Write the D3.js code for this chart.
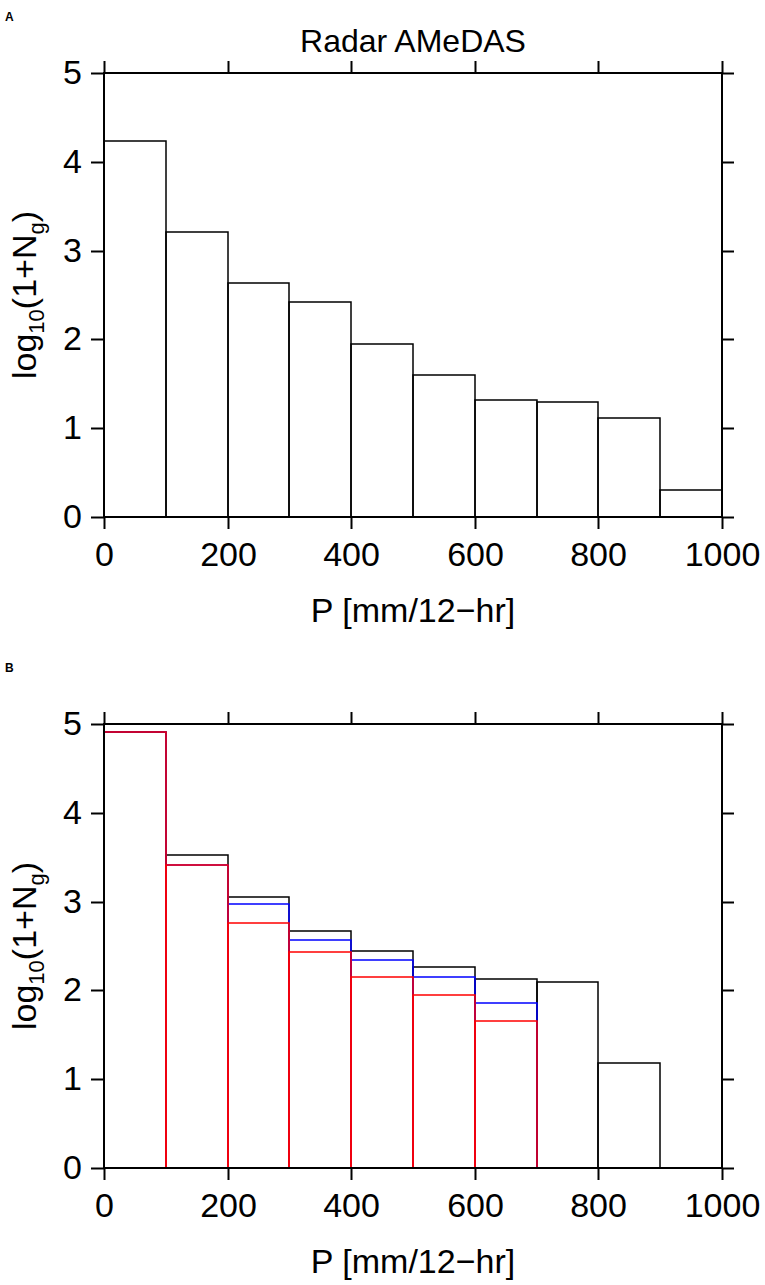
<!DOCTYPE html>
<head>
<meta charset="utf-8">
<style type="text/css">
body { margin: 0; background: white; }
text { font-family: "Liberation Sans", Arial, sans-serif; fill: black; }
.bar { fill: none; stroke-width: 1.5; }
.axis line { stroke: black; stroke-width: 2; }
.axis path { display: none; }
.axis text { font-size: 34px; }
</style>
</head>
<body>
<script src="https://cdn.jsdelivr.net/npm/d3@7"></script>
<script type="text/javascript">
  // bin edges of precipitation P [mm/12-hr]
  var binEdges = [0, 100, 200, 300, 400, 500, 600, 700, 800, 900, 1000];
  var xTicks = [0, 200, 400, 600, 800, 1000];
  var yTicks = [0, 1, 2, 3, 4, 5];

  // panel A: Radar AMeDAS, log10(1+Ng) per bin
  var radarAmedas = [4.23, 3.21, 2.64, 2.42, 1.95, 1.60, 1.32, 1.30, 1.12, 0.30];

  // panel B: three histograms (black, blue, red)
  var histBlack = [4.91, 3.53, 3.05, 2.67, 2.44, 2.26, 2.13, 2.09, 1.18];
  var histBlue  = [4.91, 3.41, 2.97, 2.57, 2.34, 2.15, 1.86];
  var histRed   = [4.91, 3.41, 2.76, 2.43, 2.15, 1.95, 1.66];

  var width = 765, height = 1285;
  var left = 104, right = 722;
  var fmt = d3.format('d');

  var svg = d3.select('body').append('svg')
          .attr('width', width)
          .attr('height', height);

  // rounded ranges so overlapping outlines land on the same pixels
  var x = d3.scaleLinear().domain([0, 1000]).rangeRound([left, right]);

  function panel(top, bottom, letter, title, series) {
    var y = d3.scaleLinear().domain([0, 5]).rangeRound([bottom, top]);
    var g = svg.append('g');

    // bars, drawn in order so later series sit on top
    series.forEach(function(s) {
      g.selectAll('.bar-' + s.name)
              .data(s.values)
              .enter()
              .append('rect')
              .attr('class', 'bar')
              .attr('stroke', s.color)
              .attr('x', function(d, i) { return x(binEdges[i]); })
              .attr('y', function(d) { return y(d); })
              .attr('width', function(d, i) { return x(binEdges[i + 1]) - x(binEdges[i]); })
              .attr('height', function(d) { return y(0) - y(d); });
    });

    // axes with outward ticks on all four sides
    g.append('g').attr('class', 'axis')
            .attr('transform', 'translate(0,' + bottom + ')')
            .call(d3.axisBottom(x).tickValues(xTicks).tickFormat(fmt).tickSize(12).tickPadding(13).tickSizeOuter(0));
    g.append('g').attr('class', 'axis')
            .attr('transform', 'translate(0,' + top + ')')
            .call(d3.axisTop(x).tickValues(xTicks).tickSize(12).tickFormat('').tickSizeOuter(0));
    g.append('g').attr('class', 'axis')
            .attr('transform', 'translate(' + left + ',0)')
            .call(d3.axisLeft(y).tickValues(yTicks).tickFormat(fmt).tickSize(13).tickPadding(9).tickSizeOuter(0));
    g.append('g').attr('class', 'axis')
            .attr('transform', 'translate(' + right + ',0)')
            .call(d3.axisRight(y).tickValues(yTicks).tickSize(12).tickFormat('').tickSizeOuter(0));

    // frame
    g.append('rect')
            .attr('x', left)
            .attr('y', top)
            .attr('width', right - left)
            .attr('height', bottom - top)
            .attr('fill', 'none')
            .attr('stroke', 'black')
            .attr('stroke-width', 2);

    // axis titles
    g.append('text')
            .attr('x', (left + right) / 2)
            .attr('y', bottom + 105)
            .attr('text-anchor', 'middle')
            .style('font-size', '34px')
            .text('P [mm/12\u2212hr]');

    var yl = g.append('text')
            .attr('transform', 'translate(36,' + (top + bottom) / 2 + ') rotate(-90)')
            .attr('text-anchor', 'middle')
            .style('font-size', '34px');
    yl.append('tspan').text('log');
    yl.append('tspan').attr('dy', 8).style('font-size', '22px').text('10');
    yl.append('tspan').attr('dy', -8).text('(1+N');
    yl.append('tspan').attr('dy', 8).style('font-size', '22px').text('g');
    yl.append('tspan').attr('dy', -8).text(')');

    if (title) {
      g.append('text')
              .attr('x', (left + right) / 2)
              .attr('y', top - 21)
              .attr('text-anchor', 'middle')
              .style('font-size', '32px')
              .text(title);
    }

    // panel letter
    g.append('text')
            .attr('x', 5)
            .attr('y', top - 52)
            .style('font-size', '12px')
            .style('font-weight', 'bold')
            .text(letter);
  }

  panel(73, 517, 'A', 'Radar AMeDAS', [
    { name: 'radar', color: 'black', values: radarAmedas }
  ]);

  panel(724, 1168, 'B', null, [
    { name: 'black', color: 'black', values: histBlack },
    { name: 'blue', color: '#0000ff', values: histBlue },
    { name: 'red', color: '#ff0000', values: histRed }
  ]);
</script>
</body>
